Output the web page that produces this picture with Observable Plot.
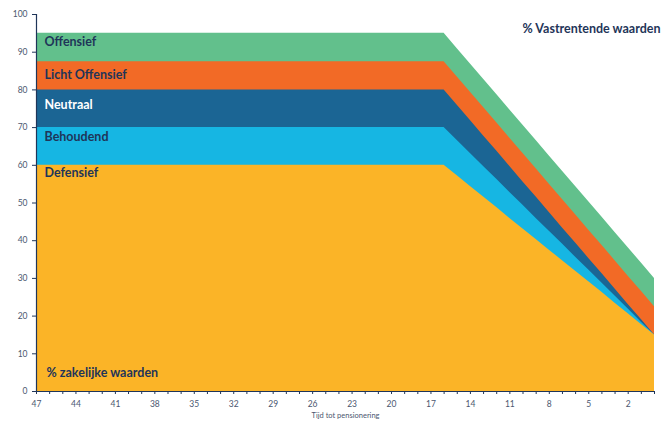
<!DOCTYPE html>
<html>
<head>
<meta charset="utf-8">
<script src="https://cdn.jsdelivr.net/npm/d3@7"></script>
<script src="https://cdn.jsdelivr.net/npm/@observablehq/plot@0.6"></script>
<style>
  html, body { margin: 0; padding: 0; background: #fff; }
  #chart svg { display: block; }
</style>
</head>
<body>
<div id="chart"></div>
<script>
// Years to retirement (categories)
const years = [47,46,45,44,43,42,41,40,39,38,37,36,35,34,33,32,31,30,29,28,27,26,25,24,23,22,21,20,19,18,17,16,15,14,13,12,11,10,9,8,7,6,5,4,3,2,1,0];
const tickLabels = [47,44,41,38,35,32,29,26,23,20,17,14,11,8,5,2];

// % zakelijke waarden per profile
const offensief = [95,95,95,95,95,95,95,95,95,95,95,95,95,95,95,95,95,95,95,95,95,95,95,95,95,95,95,95,95,95,95,95,90.9,86.9,82.8,78.8,74.7,70.6,66.6,62.5,58.4,54.4,50.3,46.3,42.2,38.1,34.1,30];
const lichtOffensief = [87.5,87.5,87.5,87.5,87.5,87.5,87.5,87.5,87.5,87.5,87.5,87.5,87.5,87.5,87.5,87.5,87.5,87.5,87.5,87.5,87.5,87.5,87.5,87.5,87.5,87.5,87.5,87.5,87.5,87.5,87.5,87.5,83.4,79.4,75.3,71.3,67.2,63.1,59.1,55,50.9,46.9,42.8,38.8,34.7,30.6,26.6,22.5];
const neutraal = [80,80,80,80,80,80,80,80,80,80,80,80,80,80,80,80,80,80,80,80,80,80,80,80,80,80,80,80,80,80,80,80,75.9,71.9,67.8,63.8,59.7,55.6,51.6,47.5,43.4,39.4,35.3,31.3,27.2,23.1,19.1,15];
const behoudend = [70,70,70,70,70,70,70,70,70,70,70,70,70,70,70,70,70,70,70,70,70,70,70,70,70,70,70,70,70,70,70,70,66.6,63.1,59.7,56.3,52.8,49.4,45.9,42.5,39.1,35.6,32.2,28.8,25.3,21.9,18.4,15];
const defensief = [60,60,60,60,60,60,60,60,60,60,60,60,60,60,60,60,60,60,60,60,60,60,60,60,60,60,60,60,60,60,60,60,57.2,54.4,51.6,48.8,45.9,43.1,40.3,37.5,34.7,31.9,29.1,26.3,23.4,20.6,17.8,15];

const seriesNames = ["Offensief","Licht Offensief","Neutraal","Behoudend","Defensief"];
const seriesValues = [offensief, lichtOffensief, neutraal, behoudend, defensief];
const colors = ["#62c08c","#f26a26","#1b6594","#16b6e3","#fbb427"];
const labelColors = ["#1f3559","#1f3559","#ffffff","#1f3559","#1f3559"];
const labelDy = [8.5, 13.5, 15.5, 9.5, 7.5];

const series = seriesNames.map((name, i) => ({
  name,
  color: colors[i],
  data: years.map((yr, j) => ({year: yr, value: seriesValues[i][j]}))
}));

const font = "Lato, 'Open Sans', sans-serif";
const navy = "#1f3559";
const tickColor = "#4b5770";

const marks = [];
series.forEach(s => {
  marks.push(Plot.areaY(s.data, {x: "year", y1: 0, y2: "value", fill: s.color, curve: "linear"}));
});
series.forEach((s, i) => {
  marks.push(Plot.text([s.data[0]], {
    x: "year", y: "value", text: () => s.name,
    textAnchor: "start", dx: 8, dy: labelDy[i],
    fill: labelColors[i], fontSize: 12.5, fontWeight: 700, fontFamily: font
  }));
});
marks.push(Plot.text([defensief[0]], {
  x: () => years[0], y: () => 0, text: () => "% zakelijke waarden",
  textAnchor: "start", dx: 10, dy: -18.5,
  fill: navy, fontSize: 12.5, fontWeight: 700, fontFamily: font
}));
marks.push(Plot.text(["% Vastrentende waarden"], {
  frameAnchor: "top-right", textAnchor: "end", dx: 6, dy: 10,
  fill: navy, fontSize: 12.5, fontWeight: 700, fontFamily: font
}));
marks.push(Plot.text(["Tijd tot pensionering"], {
  frameAnchor: "bottom", dy: 26,
  fill: tickColor, fontSize: 7.5, fontFamily: font
}));
marks.push(Plot.axisY({
  ticks: [0,10,20,30,40,50,60,70,80,90,100], tickSize: 4, tickPadding: 5,
  label: null, fill: tickColor, stroke: navy, fontSize: 8.5, fontFamily: font
}));
marks.push(Plot.axisX({
  ticks: years, tickSize: 3, tickPadding: 6, label: null,
  tickFormat: d => tickLabels.includes(d) ? String(d) : "",
  fill: tickColor, stroke: navy, fontSize: 8.5, fontFamily: font
}));
marks.push(Plot.ruleY([0], {stroke: navy, strokeWidth: 1.2}));
marks.push(Plot.ruleX([years[0]], {stroke: navy, strokeWidth: 1.2}));

const chart = Plot.plot({
  width: 672,
  height: 423,
  marginLeft: 36,
  marginRight: 18,
  marginTop: 14,
  marginBottom: 32,
  style: {fontFamily: font, background: "#fff"},
  x: {type: "linear", domain: [47, 0], range: [36, 654]},
  y: {domain: [0, 100]},
  marks
});
document.getElementById("chart").appendChild(chart);
</script>
</body>
</html>
